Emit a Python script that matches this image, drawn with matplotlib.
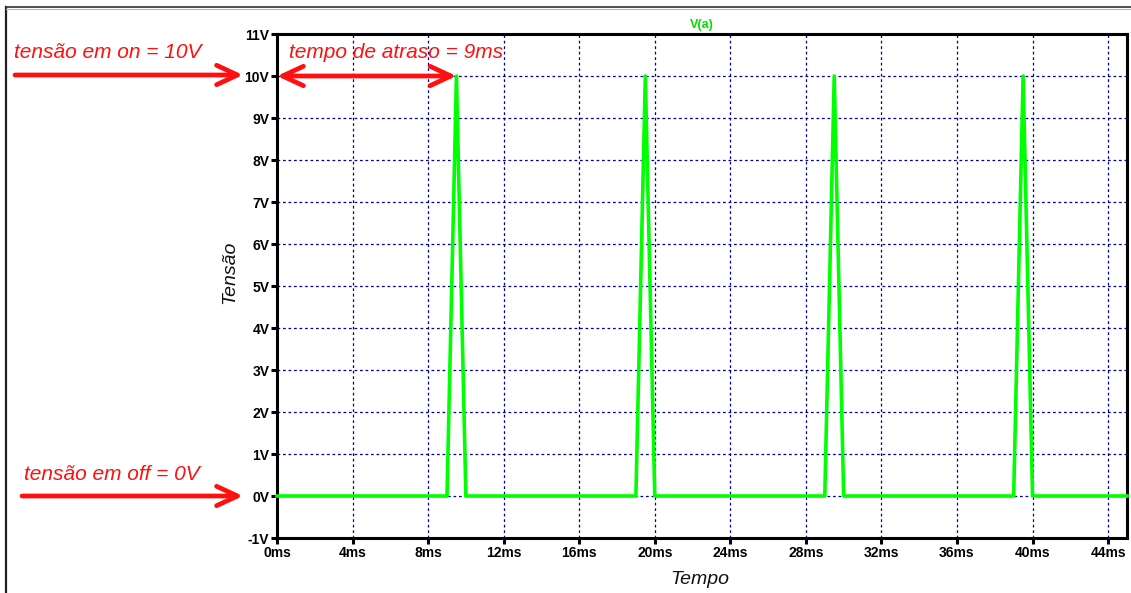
import matplotlib
matplotlib.use("Agg")
import matplotlib.pyplot as plt
from matplotlib.lines import Line2D

# Forme d'onde V(a) : impulsions triangulaires (ms, V)
tempo_ms = [0, 9, 9.5, 10, 19, 19.5, 20, 29, 29.5, 30, 39, 39.5, 40, 45]
tensao_v = [0, 0, 10, 0, 0, 10, 0, 0, 10, 0, 0, 10, 0, 0]

xticks_ms = [0, 4, 8, 12, 16, 20, 24, 28, 32, 36, 40, 44]
yticks_v = list(range(-1, 12))

atraso_ms = 9.5
v_on = 10
v_off = 0

W, H = 1131, 593
fig = plt.figure(figsize=(W / 100, H / 100), dpi=100)
fig.patch.set_facecolor("white")

ax = fig.add_axes([277 / W, 1 - 538 / H, (1127 - 277) / W, (538 - 34) / H])
ax.plot(tempo_ms, tensao_v, color="#00ff00", lw=2.6, zorder=3, clip_on=False)

ax.set_xlim(0, 45)
ax.set_ylim(-1, 11)
ax.set_xticks(xticks_ms)
ax.set_xticklabels([f"{t}ms" for t in xticks_ms])
ax.set_yticks(yticks_v)
ax.set_yticklabels([f"{v}V" for v in yticks_v])

ax.grid(True, color="#0000a8", lw=0.9, ls=(0, (2.2, 2.2)))
ax.set_axisbelow(True)
for sp in ax.spines.values():
    sp.set_linewidth(2.2)
    sp.set_color("black")
ax.tick_params(direction="out", length=4.5, width=2.2, color="black", pad=1)
for lab in ax.get_xticklabels() + ax.get_yticklabels():
    lab.set_fontfamily("Liberation Sans")
    lab.set_fontweight("bold")
    lab.set_fontsize(10)

ax.set_title("V(a)", color="#00dd00", fontsize=9, fontweight="bold",
             fontfamily="Liberation Sans", pad=4)

fig.text(700 / W, 1 - 580 / H, "Tempo", ha="center", va="center", fontsize=14,
         style="italic", family="Liberation Sans", color="#111111")
fig.text(230 / W, 1 - 272 / H, "Tensão", ha="center", va="center", fontsize=14,
         style="italic", family="Liberation Sans", rotation=90, color="#111111")

# Annotations rouges
red = "#ff1010"
txt = dict(fontsize=15, style="italic", family="Liberation Sans", color=red, va="center")
fig.text(14 / W, 1 - 52 / H, "tensão em on = 10V", **txt)
fig.text(289 / W, 1 - 52 / H, "tempo de atraso = 9ms", **txt)
fig.text(24 / W, 1 - 474 / H, "tensão em off = 0V", **txt)

arr = dict(arrowstyle="->,head_length=1.5,head_width=0.7", color=red, lw=3.4,
           shrinkA=0, shrinkB=0)
ax.annotate("", xy=(243 / W, 1 - 75 / H), xytext=(15 / W, 1 - 75 / H),
            xycoords="figure fraction", textcoords="figure fraction",
            arrowprops=arr, annotation_clip=False)
ax.annotate("", xy=(243 / W, 1 - 496 / H), xytext=(22 / W, 1 - 496 / H),
            xycoords="figure fraction", textcoords="figure fraction",
            arrowprops=arr, annotation_clip=False)
arr2 = dict(arr, arrowstyle="<->,head_length=1.5,head_width=0.7")
ax.annotate("", xy=(atraso_ms, v_on), xytext=(0, v_on),
            arrowprops=arr2, annotation_clip=False, zorder=5)

# Cadre de la fenêtre
fig.add_artist(Line2D([6 / W, 6 / W], [0, 1 - 7 / H], color="#222222", lw=1.6,
                      transform=fig.transFigure))
fig.add_artist(Line2D([6 / W, 1], [1 - 7 / H, 1 - 7 / H], color="#333333", lw=1.2,
                      transform=fig.transFigure))
fig.add_artist(Line2D([6 / W, 1], [1 - 9 / H, 1 - 9 / H], color="#bbbbbb", lw=0.8,
                      transform=fig.transFigure))

fig.savefig("out.png", dpi=100)
